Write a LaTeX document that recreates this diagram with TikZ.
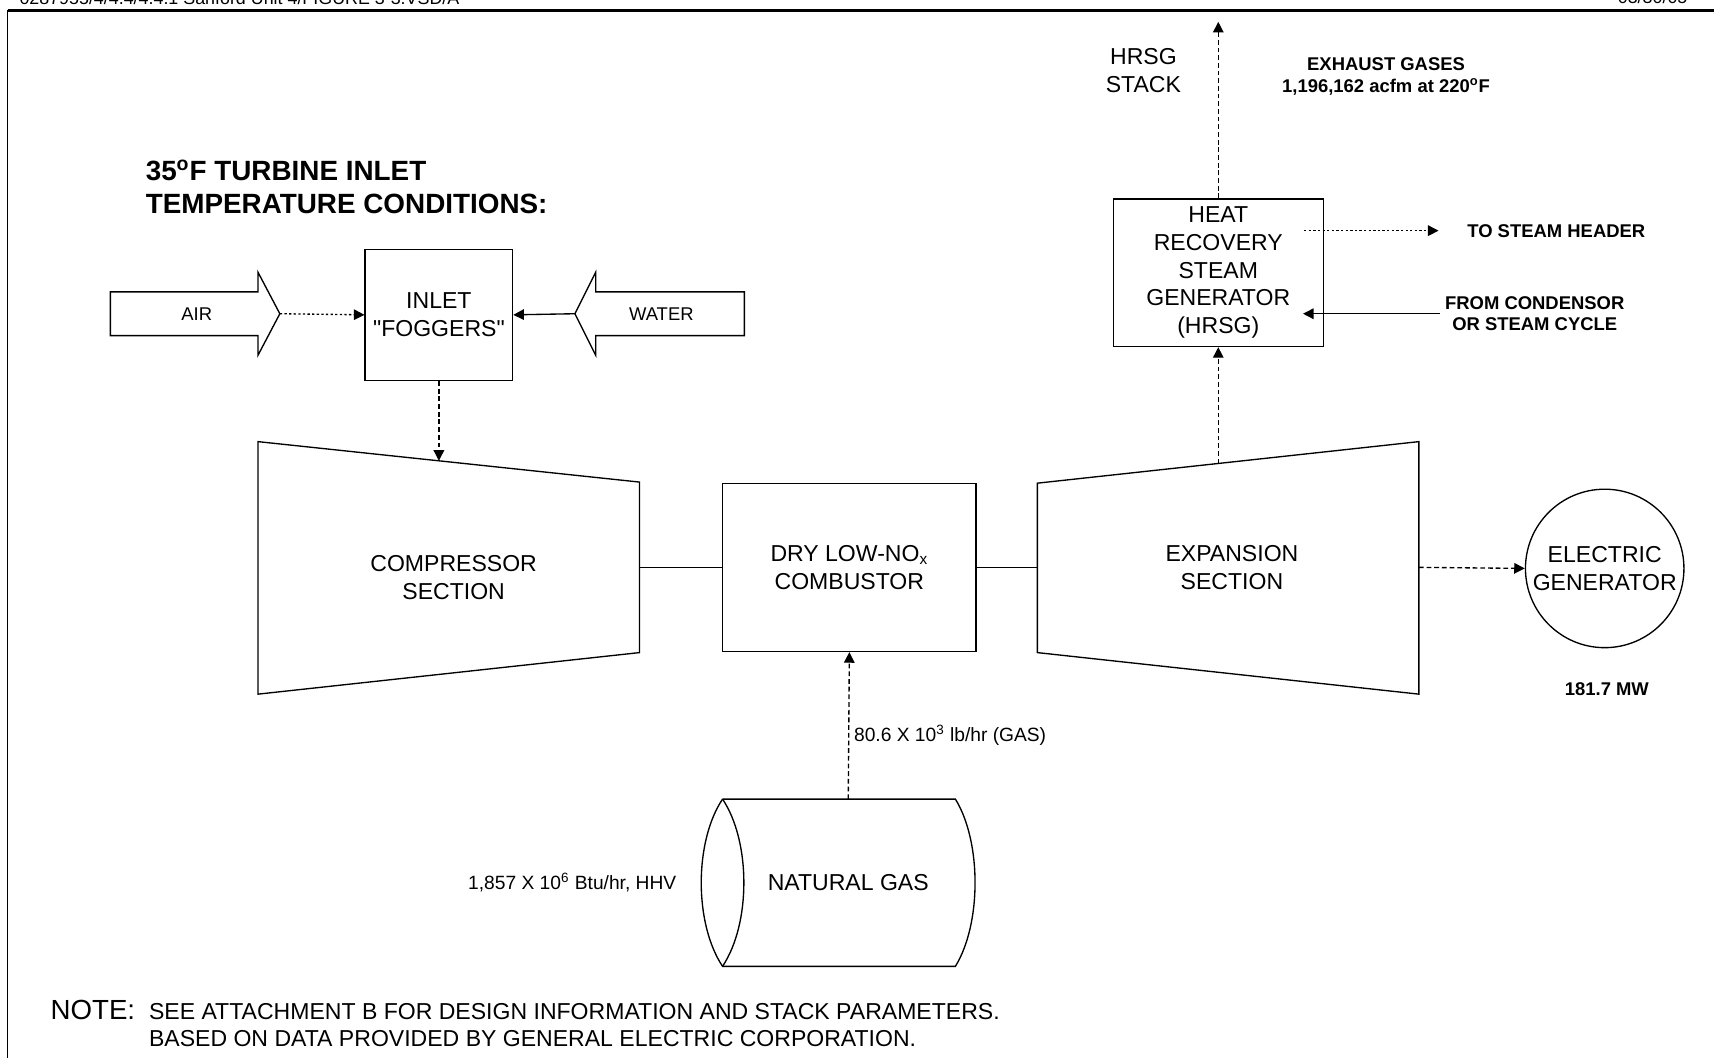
\documentclass[tikz,border=0pt]{standalone}
\usepackage{fontspec}
\setmainfont{Liberation Sans}
\usetikzlibrary{arrows.meta}
\newcommand\straightquote{\XeTeXglyph\XeTeXcharglyph"22\relax}
\begin{document}
\begin{tikzpicture}[x=0.02cm,y=-0.02cm,
  myln/.style={line width=0.7pt},
  mytip/.style={-{Triangle[length=5.5pt,width=5.5pt]}},
  mydash/.style={dash pattern=on 2.5pt off 1.5pt},
  mydot/.style={dash pattern=on 1.2pt off 1.2pt},
  mylbl/.style={inner sep=0pt, align=center, font=\fontsize{12}{14.4}\selectfont},
  mysm/.style={inner sep=0pt, align=center, font=\bfseries\fontsize{9.6}{11.3}\selectfont},
  mysmr/.style={inner sep=0pt, font=\fontsize{10}{12}\selectfont},
  mybox/.style={draw, myln, mylbl},
]
\useasboundingbox (0,0) rectangle (1568,968);
\clip (0,0) rectangle (1568,968);

% frame and clipped header
\draw[line width=1.2pt] (7,9.5) -- (1568,9.5);
\draw[line width=0.8pt] (7,9.5) -- (7,968);
\node[inner sep=0pt, anchor=base west, font=\fontsize{9.3}{11}\selectfont] (hdrl) at (17.5,4) {0287955/4/4.4/4.4.1 Sanford Unit 4/FIGURE 3-3.VSD/A};
\node[inner sep=0pt, anchor=base east, font=\fontsize{9.3}{11}\selectfont] (hdrr) at (1544,3.5) {03/30/05};

% title
\node[inner sep=0pt, anchor=base west, font=\bfseries\fontsize{14.5}{17}\selectfont] (title1) at (133,165) {35\textsuperscript{o}F TURBINE INLET};
\node[inner sep=0pt, anchor=base west, font=\bfseries\fontsize{14.5}{17}\selectfont] (title2) at (133,195) {TEMPERATURE CONDITIONS:};

% boxes
\node[mybox, minimum width=2.7cm, minimum height=2.4cm] (inlet) at (401.5,288) {INLET\\\straightquote FOGGERS\straightquote};
\node[mybox, minimum width=4.64cm, minimum height=3.08cm] (comb) at (777,519) {DRY LOW-NO\textsubscript{x}\\COMBUSTOR};
\node[mybox, minimum width=3.84cm, minimum height=2.7cm] (hrsg) at (1114.5,249.5) {HEAT\\RECOVERY\\STEAM\\GENERATOR\\(HRSG)};
\node[mybox, circle, minimum size=2.9cm] (gen) at (1468,520) {ELECTRIC\\GENERATOR};

% compressor
\coordinate (c1) at (236,404);
\coordinate (c2) at (585,441);
\coordinate (c3) at (585,597);
\coordinate (c4) at (236,635);
\draw[myln] (c1) -- (c2) -- (c3) -- (c4) -- cycle;
\node[mylbl] (comptxt) at (415,528.5) {COMPRESSOR\\SECTION};
\coordinate (compe) at (585,519);
\coordinate (comptop) at (401.5,421.5);

% expansion
\coordinate (e1) at (949,442);
\coordinate (e2) at (1298,404);
\coordinate (e3) at (1298,635);
\coordinate (e4) at (949,597);
\draw[myln] (e1) -- (e2) -- (e3) -- (e4) -- cycle;
\node[mylbl] (exptxt) at (1127,519) {EXPANSION\\SECTION};
\coordinate (expw) at (949,519);
\coordinate (expe) at (1298,519);
\coordinate (exptop) at (1114.5,424);

% block arrows
\draw[myln] (101,267) -- (236,267) -- (236,249) -- (256,287) -- (236,325) -- (236,307) -- (101,307) -- cycle;
\node[inner sep=0pt, font=\fontsize{9.6}{11}\selectfont] (air) at (180,287) {AIR};
\coordinate (airtip) at (256,287);
\draw[myln] (681,267) -- (545,267) -- (545,249) -- (526,287) -- (545,325) -- (545,307) -- (681,307) -- cycle;
\node[inner sep=0pt, font=\fontsize{9.6}{11}\selectfont] (water) at (605,287) {WATER};
\coordinate (watertip) at (526,287);

% natural gas cylinder
\coordinate (gA) at (661,731);
\coordinate (gB) at (661,884);
\coordinate (gC) at (874,731);
\coordinate (gD) at (874,884);
\draw[myln] (gA) -- (gC) .. controls (898,770) and (898,845) .. (gD) -- (gB)
  .. controls (635,845) and (635,770) .. (gA);
\draw[myln] (gA) .. controls (687,770) and (687,845) .. (gB);
\node[mylbl] (gas) at (776,807) {NATURAL GAS};
\coordinate (gastop) at (776,731);

% stack, steam
\coordinate (stacktop) at (1114.5,20);
\coordinate (steamfrom) at (1193,211);
\coordinate (steamto) at (1316,211);
\coordinate (condfrom) at (1317,287);
\coordinate (condto) at (1192,287);

% connectors
\draw[myln, mydot, mytip] (airtip) -- (inlet.west);
\draw[myln, mytip] (watertip) -- (inlet.east);
\draw[myln, mydash, mytip] (inlet.south) -- (comptop);
\draw[myln] (compe) -- (comb.west);
\draw[myln] (comb.east) -- (expw);
\draw[myln, mydash, mytip] (exptop) -- (hrsg.south);
\draw[myln, mydash, mytip] (hrsg.north) -- (stacktop);
\draw[myln, mydot, mytip] (steamfrom) -- (steamto);
\draw[myln, mytip] (condfrom) -- (condto);
\draw[myln, mydash, mytip] (expe) -- (gen.west);
\draw[myln, mydash, mytip] (gastop) -- (comb.south);

% labels
\node[mylbl] (stack) at (1046,64.5) {HRSG\\STACK};
\node[mysm] (exh) at (1268,70) {EXHAUST GASES\\1,196,162 acfm at 220\textsuperscript{o}F};
\node[mysm, anchor=west] (steamtxt) at (1342,211) {TO STEAM HEADER};
\node[mysm] (condtxt) at (1404,287) {FROM CONDENSOR\\OR STEAM CYCLE};
\node[mysm] (mw) at (1470,630) {181.7 MW};
\node[mysmr, anchor=west] (gasflow) at (781,673) {80.6 X 10\textsuperscript{3} lb/hr (GAS)};
\node[mysmr, anchor=east] (heat) at (619,807) {1,857 X 10\textsuperscript{6} Btu/hr, HHV};

% note
\node[inner sep=0pt, anchor=base west, font=\fontsize{14.4}{17}\selectfont] (note) at (46,933) {NOTE:};
\node[inner sep=0pt, anchor=base west, font=\fontsize{12}{14.4}\selectfont] (note1) at (136,933) {SEE ATTACHMENT B FOR DESIGN INFORMATION AND STACK PARAMETERS.};
\node[inner sep=0pt, anchor=base west, font=\fontsize{12}{14.4}\selectfont] (note2) at (136,957) {BASED ON DATA PROVIDED BY GENERAL ELECTRIC CORPORATION.};
\end{tikzpicture}
\end{document}
